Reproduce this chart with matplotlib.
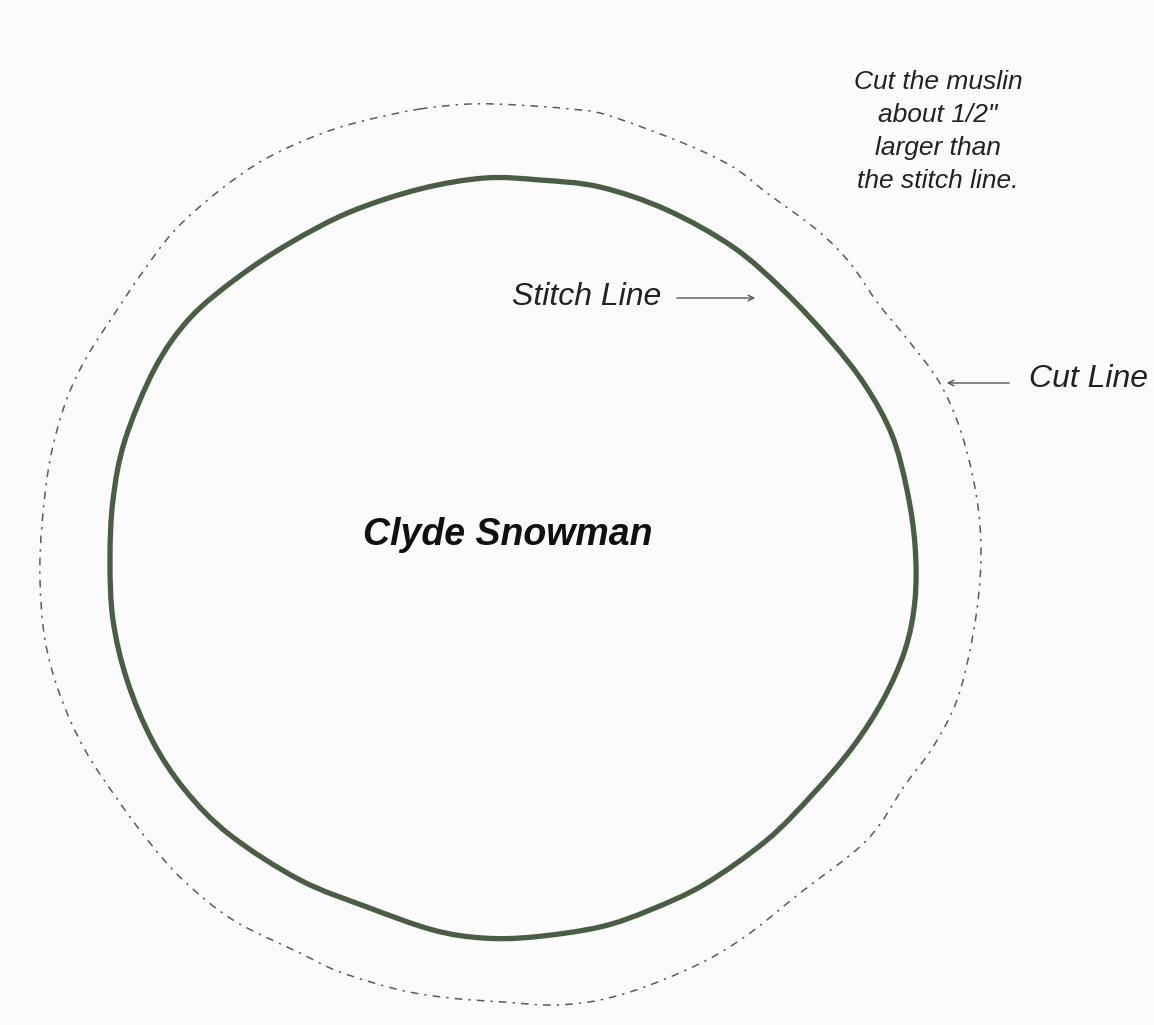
import numpy as np
import matplotlib.pyplot as plt
from matplotlib.path import Path
from matplotlib.patches import PathPatch

stitch_x = [485, 540, 600, 667, 733, 783, 830, 865, 892, 907, 915, 915, 905, 883, 852, 812,
            767, 705, 650, 600, 533, 483, 433, 367, 300, 230, 185, 152, 127, 113, 110, 113,
            125, 155, 190, 237, 290, 350, 420]
stitch_y = [178, 180, 187, 210, 247, 290, 340, 385, 435, 490, 545, 600, 650, 700, 748, 795,
            840, 884, 910, 927, 937, 938, 930, 907, 880, 835, 790, 740, 680, 620, 560, 500,
            440, 368, 318, 278, 243, 212, 189]

cut_x = [420, 470, 517, 570, 607, 683, 733, 767, 817, 850, 877, 908, 938, 958, 972, 980,
         980, 972, 957, 933, 905, 867, 800, 750, 707, 650, 600, 553, 503, 450, 400, 340,
         300, 233, 183, 150, 120, 85, 60, 45, 40, 42, 50, 65, 85, 113, 142, 175, 220, 267,
         323, 367]
cut_y = [109, 104, 105, 109, 115, 143, 167, 193, 230, 263, 302, 340, 380, 423, 473, 525,
         580, 640, 700, 747, 785, 840, 893, 933, 960, 985, 1000, 1005, 1002, 998, 990, 972,
         953, 920, 880, 843, 803, 750, 695, 640, 580, 524, 460, 404, 360, 316, 273, 230, 190,
         158, 133, 120]

title = "Clyde Snowman"
note_lines = ["Cut the muslin", "about 1/2\"", "larger than", "the stitch line."]
stitch_label = "Stitch Line"
cut_label = "Cut Line"


def closed_curve(xs, ys):
    # smooth closed curve through the traced points (catmull-rom as bezier segments)
    p = np.column_stack([xs, ys]).astype(float)
    prev = np.roll(p, 1, axis=0)
    nxt = np.roll(p, -1, axis=0)
    nxt2 = np.roll(p, -2, axis=0)
    c1 = p + (nxt - prev) / 6.0
    c2 = nxt - (nxt2 - p) / 6.0
    verts = [p[0]]
    codes = [Path.MOVETO]
    for i in range(len(p)):
        verts += [c1[i], c2[i], nxt[i]]
        codes += [Path.CURVE4] * 3
    verts.append(p[0])
    codes.append(Path.CLOSEPOLY)
    return Path(verts, codes)


plt.rcParams['font.family'] = ['Liberation Sans', 'DejaVu Sans']

fig = plt.figure(figsize=(11.54, 10.25), dpi=100, facecolor='#fbfbfb')
ax = fig.add_axes([0, 0, 1, 1])
ax.set_facecolor('#fbfbfb')
ax.set_xlim(0, 1154)
ax.set_ylim(1025, 0)
ax.axis('off')

ax.add_patch(PathPatch(closed_curve(stitch_x, stitch_y), facecolor='none',
                       edgecolor='#4b5e45', lw=3.8, capstyle='round', joinstyle='round'))
ax.add_patch(PathPatch(closed_curve(cut_x, cut_y), facecolor='none',
                       edgecolor='#5a5a5a', lw=1.1, linestyle=(0, (5, 4, 1.5, 4))))

ax.text(508, 535, title, fontsize=27, fontweight='bold', fontstyle='italic',
        ha='center', va='center', color='#111111')

for i, line in enumerate(note_lines):
    ax.text(938, 82 + i * 33, line, fontsize=19, fontstyle='italic',
            ha='center', va='center', color='#222222')

ax.text(512, 297, stitch_label, fontsize=23, fontstyle='italic',
        ha='left', va='center', color='#222222')
ax.annotate("", xy=(758, 298), xytext=(674, 298),
            arrowprops=dict(arrowstyle='->', color='#555555', lw=1.0))

ax.text(1148, 379, cut_label, fontsize=23, fontstyle='italic',
        ha='right', va='center', color='#222222')
ax.annotate("", xy=(944, 383), xytext=(1012, 383),
            arrowprops=dict(arrowstyle='->', color='#555555', lw=1.0))

fig.savefig('out.png', dpi=100, facecolor=fig.get_facecolor())
